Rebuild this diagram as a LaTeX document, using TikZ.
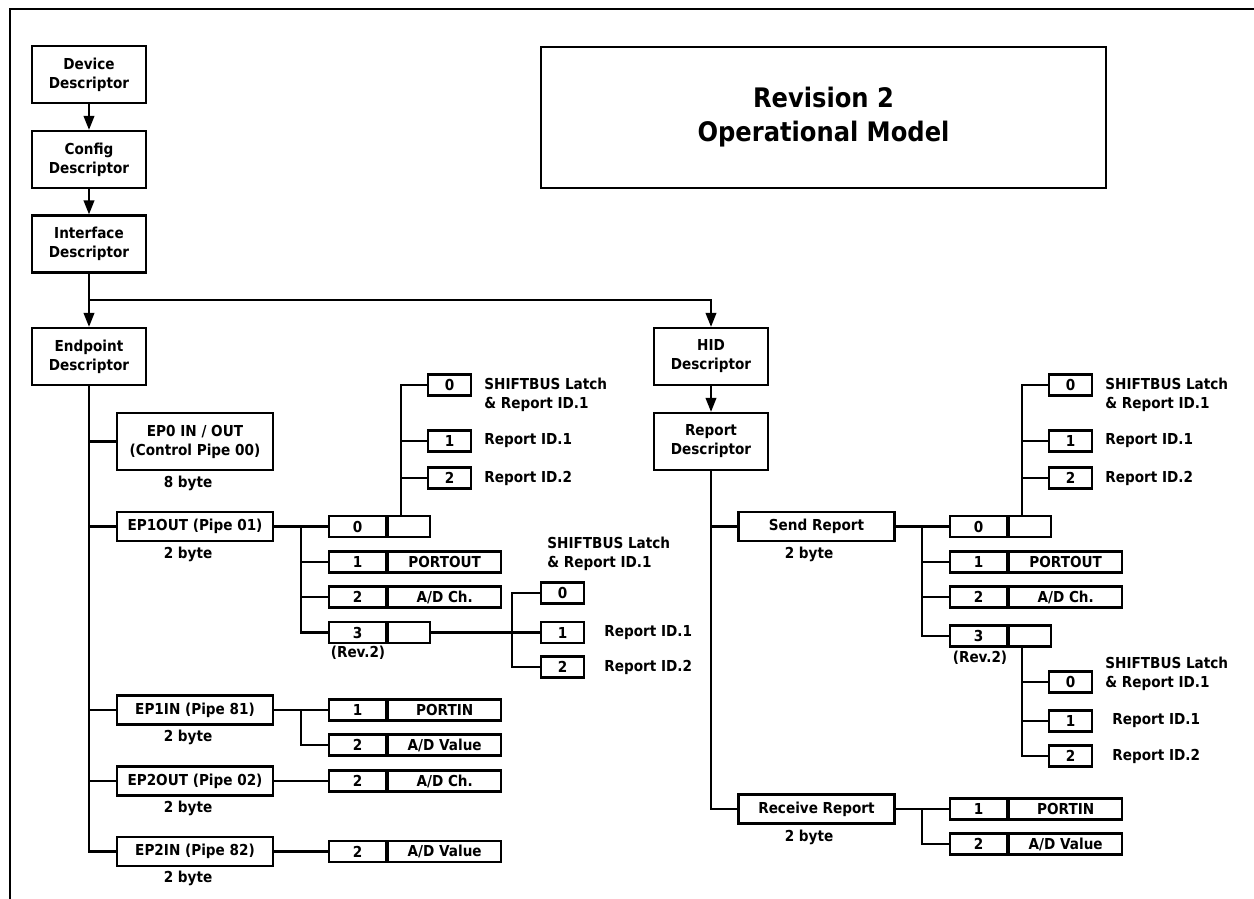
\documentclass[tikz,border=0pt]{standalone}
\usepackage{fontspec}
\setmainfont{DejaVu Sans Condensed}[BoldFont={DejaVu Sans Condensed Bold}]
\usetikzlibrary{arrows.meta,positioning,calc}

\tikzset{
  box/.style={draw,line width=1.25pt,inner sep=0pt,align=center},
  desc/.style={box,minimum width=2.28cm,minimum height=1.14cm},
  pipe/.style={box,minimum width=3.12cm,minimum height=0.58cm},
  numcell/.style={box,minimum width=1.14cm,minimum height=0.42cm},
  valcell/.style={box,minimum width=2.26cm,minimum height=0.42cm},
  blank/.style={box,minimum width=0.84cm,minimum height=0.42cm},
  idbox/.style={box,minimum width=0.86cm,minimum height=0.42cm},
  note/.style={inner sep=0pt,align=left,anchor=west},
  wire/.style={line width=1.2pt},
  flow/.style={wire,-{Triangle[length=8pt,width=6pt]}}
}

\begin{document}
\begin{tikzpicture}[x=0.02cm,y=-0.02cm,font=\fontsize{8.6}{10.8}\selectfont\bfseries]
  \useasboundingbox (0,0) rectangle (1254,899);
  % --- frame (top and left edge only) ---
  \draw[line width=1pt] (10,899) -- (10,9) -- (1254,9);
  % --- title ---
  \node[box,minimum width=11.3cm,minimum height=2.82cm,
        font=\fontsize{15.3}{19.3}\selectfont\bfseries] (title) at (823.5,117.5)
        {Revision 2\\Operational Model};
  % --- descriptor chain ---
  \node[desc] (dev) at (89,74.5)  {Device\\Descriptor};
  \node[desc] (cfg) at (89,159.5) {Config\\Descriptor};
  \node[desc] (ifc) at (89,244)   {Interface\\Descriptor};
  \node[desc] (ep)  at (89,356.5) {Endpoint\\Descriptor};
  \node[desc] (hid) at (711,356.5) {HID\\Descriptor};
  \node[desc] (rep) at (711,441.5) {Report\\Descriptor};
  \coordinate (split) at (89,300);
  \draw[flow] (dev) -- (cfg);
  \draw[flow] (cfg) -- (ifc);
  \draw[flow] (ifc) -- (ep);
  \draw[flow] (split) -| (hid);
  \draw[flow] (hid) -- (rep);
  % --- endpoints ---
  \node[pipe,minimum height=1.14cm] (ep0) at (195,441.5) {EP0 IN / OUT\\(Control Pipe 00)};
  \node (ep0b) at (188,483) {8 byte};
  \node[pipe] (ep1out) at (195,526.5) {EP1OUT (Pipe 01)};
  \node (ep1outb) at (188,554) {2 byte};
  \node[pipe] (ep1in) at (195,710) {EP1IN (Pipe 81)};
  \node (ep1inb) at (188,737) {2 byte};
  \node[pipe] (ep2out) at (195,781) {EP2OUT (Pipe 02)};
  \node (ep2outb) at (188,808) {2 byte};
  \node[pipe] (ep2in) at (195,851.5) {EP2IN (Pipe 82)};
  \node (ep2inb) at (188,878) {2 byte};
  \draw[wire] (ep) |- (ep2in);
  \draw[wire] (ep0.west -| ep.south) -- (ep0);
  \draw[wire] (ep1out.west -| ep.south) -- (ep1out);
  \draw[wire] (ep1in.west -| ep.south) -- (ep1in);
  \draw[wire] (ep2out.west -| ep.south) -- (ep2out);
  % --- EP1OUT report bytes ---
  \node[numcell] (on0) at (357.5,526.5) {0};
  \node[blank,right=0pt of on0] (ov0) {};
  \node[numcell] (on1) at (357.5,562) {1};
  \node[valcell,right=0pt of on1] (ov1) {PORTOUT};
  \node[numcell] (on2) at (357.5,597) {2};
  \node[valcell,right=0pt of on2] (ov2) {A/D Ch.};
  \node[numcell] (on3) at (357.5,632.5) {3};
  \node[blank,right=0pt of on3] (ov3) {};
  \node (orev) at (358,653) {(Rev.2)};
  \coordinate (obus) at (301,526.5);
  \draw[wire] (ep1out) -- (on0);
  \draw[wire] (obus) |- (on3);
  \draw[wire] (obus |- on1) -- (on1);
  \draw[wire] (obus |- on2) -- (on2);
  % byte 0 -> ids
  \node[idbox] (oa0) at (449.5,385) {0};
  \node[idbox] (oa1) at (449.5,441) {1};
  \node[idbox] (oa2) at (449.5,478) {2};
  \node[note] (oa0t) at (484,395) {SHIFTBUS Latch\\\& Report ID.1};
  \node[note] (oa1t) at (484,441) {Report ID.1};
  \node[note] (oa2t) at (484,478) {Report ID.2};
  \coordinate (oup) at ($(ov0.north west)+(13.5,0)$);
  \draw[wire] (oup) |- (oa0);
  \draw[wire] (oup |- oa1) -- (oa1);
  \draw[wire] (oup |- oa2) -- (oa2);
  % byte 3 -> ids
  \node[idbox] (ob0) at (562.5,593) {0};
  \node[idbox] (ob1) at (562.5,632.5) {1};
  \node[idbox] (ob2) at (562.5,667) {2};
  \node[note] (ob0t) at (547,553.5) {SHIFTBUS Latch\\\& Report ID.1};
  \node[note] (ob1t) at (604,632.5) {Report ID.1};
  \node[note] (ob2t) at (604,667) {Report ID.2};
  \coordinate (obot) at (512,0);
  \draw[wire] (ov3) -- (ob1);
  \draw[wire] (ob0) -| (obot |- ob2) -- (ob2);
  % --- EP1IN / EP2OUT / EP2IN bytes ---
  \node[numcell] (in1) at (357.5,710) {1};
  \node[valcell,right=0pt of in1] (iv1) {PORTIN};
  \node[numcell] (in2) at (357.5,745) {2};
  \node[valcell,right=0pt of in2] (iv2) {A/D Value};
  \coordinate (ibus) at (301,710);
  \draw[wire] (ep1in) -- (in1);
  \draw[wire] (ibus) |- (in2);
  \node[numcell] (en2) at (357.5,781) {2};
  \node[valcell,right=0pt of en2] (ev2) {A/D Ch.};
  \draw[wire] (ep2out) -- (en2);
  \node[numcell] (fn2) at (357.5,851.5) {2};
  \node[valcell,right=0pt of fn2] (fv2) {A/D Value};
  \draw[wire] (ep2in) -- (fn2);
  % --- report side ---
  \node[pipe] (send) at (816.5,526.5) {Send Report};
  \node (sendb) at (809,554) {2 byte};
  \node[pipe] (recv) at (816.5,809) {Receive Report};
  \node (recvb) at (809,837) {2 byte};
  \draw[wire] (rep) |- (recv);
  \draw[wire] (send.west -| rep.south) -- (send);
  \node[numcell] (sn0) at (978.5,526.5) {0};
  \node[blank,right=0pt of sn0] (sv0) {};
  \node[numcell] (sn1) at (978.5,562) {1};
  \node[valcell,right=0pt of sn1] (sv1) {PORTOUT};
  \node[numcell] (sn2) at (978.5,597) {2};
  \node[valcell,right=0pt of sn2] (sv2) {A/D Ch.};
  \node[numcell] (sn3) at (978.5,636) {3};
  \node[blank,right=0pt of sn3] (sv3) {};
  \node (srev) at (980,658) {(Rev.2)};
  \coordinate (sbus) at (922,526.5);
  \draw[wire] (send) -- (sn0);
  \draw[wire] (sbus) |- (sn3);
  \draw[wire] (sbus |- sn1) -- (sn1);
  \draw[wire] (sbus |- sn2) -- (sn2);
  % byte 0 -> ids
  \node[idbox] (sa0) at (1070.5,385) {0};
  \node[idbox] (sa1) at (1070.5,441) {1};
  \node[idbox] (sa2) at (1070.5,478) {2};
  \node[note] (sa0t) at (1105,395) {SHIFTBUS Latch\\\& Report ID.1};
  \node[note] (sa1t) at (1105,441) {Report ID.1};
  \node[note] (sa2t) at (1105,478) {Report ID.2};
  \coordinate (supp) at ($(sv0.north west)+(13.5,0)$);
  \draw[wire] (supp) |- (sa0);
  \draw[wire] (supp |- sa1) -- (sa1);
  \draw[wire] (supp |- sa2) -- (sa2);
  % byte 3 -> ids
  \node[idbox] (sb0) at (1070.5,682) {0};
  \node[idbox] (sb1) at (1070.5,721) {1};
  \node[idbox] (sb2) at (1070.5,756) {2};
  \node[note] (sb0t) at (1105,673.5) {SHIFTBUS Latch\\\& Report ID.1};
  \node[note] (sb1t) at (1112,721) {Report ID.1};
  \node[note] (sb2t) at (1112,756) {Report ID.2};
  \coordinate (sdn) at ($(sv3.south west)+(13.5,0)$);
  \draw[wire] (sdn) |- (sb2);
  \draw[wire] (sdn |- sb0) -- (sb0);
  \draw[wire] (sdn |- sb1) -- (sb1);
  % receive bytes
  \node[numcell] (rn1) at (978.5,809) {1};
  \node[valcell,right=0pt of rn1] (rv1) {PORTIN};
  \node[numcell] (rn2) at (978.5,844) {2};
  \node[valcell,right=0pt of rn2] (rv2) {A/D Value};
  \coordinate (rbus) at (922,809);
  \draw[wire] (recv) -- (rn1);
  \draw[wire] (rbus) |- (rn2);
\end{tikzpicture}
\end{document}
